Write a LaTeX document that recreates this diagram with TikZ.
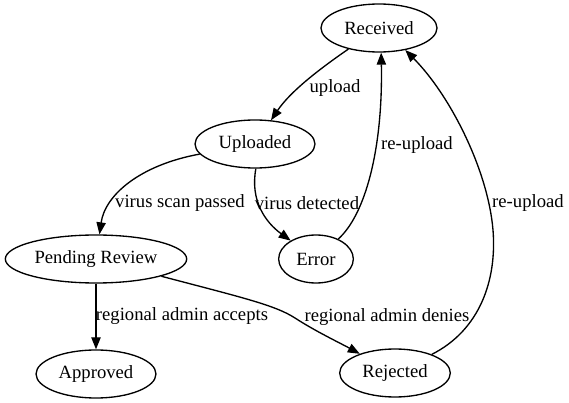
\documentclass[tikz,border=0pt]{standalone}
\usepackage{fontspec}
\setmainfont{Liberation Serif}
\usetikzlibrary{shapes.geometric,arrows.meta}

\begin{document}
\begin{tikzpicture}[x=0.75pt,y=-0.75pt,
    every node/.style={font=\fontsize{14}{16}\selectfont},
    state/.style={draw,ellipse,line width=1pt,inner sep=0pt,minimum height=36pt},
    trans/.style={-{Triangle[length=9pt,width=7pt]},line width=1pt}]
      \useasboundingbox (0,0) rectangle (569,403);
      % states
      \node[state,minimum width=87pt] (rec) at (379,28) {Received};
      \node[state,minimum width=90pt] (upl) at (255,144) {Uploaded};
      \node[state,minimum width=136pt] (pen) at (96,259) {Pending Review};
      \node[state,minimum width=56pt] (err) at (316,259) {Error};
      \node[state,minimum width=90pt] (app) at (96,374) {Approved};
      \node[state,minimum width=83pt] (rej) at (395,373) {Rejected};
      % transitions
      \draw[trans] (rec) .. controls (318,70) and (290,92) .. (upl);
      \draw[trans] (upl) .. controls (140,165) and (105,195) .. (pen);
      \draw[trans] (upl.-88) .. controls (250,200) and (265,222) .. (err);
      \draw[trans] (err) .. controls (365,215) and (383,150) .. (rec.-85);
      \draw[trans] (pen) -- (app);
      \draw[trans] (pen) .. controls (240,297) and (275,305) .. (295,318)
        .. controls (315,331) and (340,343) .. (rej);
      \draw[trans] (rej) .. controls (480,330) and (497,280) .. (493,230)
        .. controls (488,170) and (450,95) .. (rec.-40);
      % labels
      \node (lupload) at (335,88) {upload};
      \node (lreup) at (417,145) {re-upload};
      \node (lscan) at (180,203) {virus scan passed};
      \node (lvirus) at (307,203) {virus detected};
      \node (laccept) at (182,316) {regional admin accepts};
      \node (ldeny) at (387,317) {regional admin denies};
      \node (lreupb) at (528,203) {re-upload};
    \end{tikzpicture}
\end{document}
